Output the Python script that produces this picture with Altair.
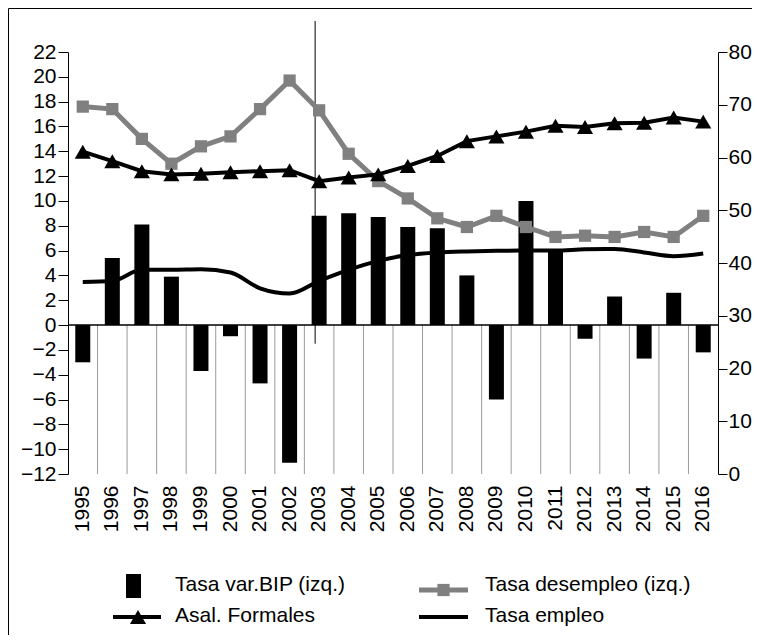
import altair as alt
import pandas as pd

years = [str(y) for y in range(1995, 2017)]
bip = [-3.0, 5.4, 8.1, 3.9, -3.7, -0.9, -4.7, -11.1, 8.8, 9.0, 8.7, 7.9, 7.8, 4.0,
       -6.0, 10.0, 5.9, -1.1, 2.3, -2.7, 2.6, -2.2]
desempleo = [17.6, 17.4, 15.0, 13.0, 14.4, 15.2, 17.4, 19.7, 17.3, 13.8, 11.6, 10.2,
             8.6, 7.9, 8.8, 7.9, 7.1, 7.2, 7.1, 7.5, 7.1, 8.8]
formales = [61.1, 59.3, 57.4, 56.8, 56.9, 57.2, 57.4, 57.6, 55.5, 56.2, 56.8, 58.4,
            60.3, 63.1, 64.0, 64.9, 66.0, 65.8, 66.5, 66.6, 67.6, 66.8]
empleo = [36.4, 36.6, 38.7, 38.7, 38.8, 38.2, 35.2, 34.2, 36.6, 38.7, 40.4, 41.5,
          42.0, 42.2, 42.3, 42.35, 42.35, 42.6, 42.65, 42.0, 41.3, 41.8]
y_left_ticks = list(range(-12, 23, 2))
y_right_ticks = list(range(0, 81, 10))
marker_year = ["2003"]
marker_span = [24.5, -1.5]
legend_labels = ["Tasa var.BIP (izq.)", "Tasa desempleo (izq.)", "Asal. Formales", "Tasa empleo"]

df = pd.DataFrame({"year": years, "bip": bip, "desempleo": desempleo,
                   "formales": formales, "empleo": empleo})
grid_df = pd.DataFrame({"year": years[1:], "top": [0] * 21, "bottom": [-12] * 21})
zero_df = pd.DataFrame({"z": [0]})
vline_df = pd.DataFrame({"year": marker_year, "top": [marker_span[0]], "bottom": [marker_span[1]]})
one = pd.DataFrame({"k": [0]})

FONT = "Liberation Sans"
LEGFONT = "Liberation Sans"

x_scale = alt.Scale(domain=years, paddingInner=0, paddingOuter=0)
x_axis = alt.Axis(title=None, labelAngle=-90, labelFontSize=21, labelFont=FONT,
                  labelColor="black", domain=False, ticks=False, labelPadding=11, grid=False)


def xenc(**kw):
    return alt.X("year:N", scale=x_scale, axis=x_axis, sort=years, **kw)


left_scale = alt.Scale(domain=[-12, 22], nice=False, zero=False)
left_axis = alt.Axis(title=None, values=y_left_ticks, orient="left", grid=False,
                     domainColor="black", tickColor="black", tickSize=10,
                     labelFontSize=21, labelFont=FONT, labelColor="black", labelPadding=2)
right_scale = alt.Scale(domain=[0, 80], nice=False, zero=False)
right_axis = alt.Axis(title=None, values=y_right_ticks, orient="right", grid=False,
                      domainColor="black", tickColor="black", tickSize=9,
                      labelFontSize=21, labelFont=FONT, labelColor="black", labelPadding=1)

grid = alt.Chart(grid_df).mark_rule(color="#9a9a9a", strokeWidth=1).encode(
    x=xenc(bandPosition=0),
    y=alt.Y("top:Q", scale=left_scale, axis=left_axis), y2="bottom:Q")
bars = alt.Chart(df).mark_bar(size=15, color="black").encode(
    x=xenc(), y=alt.Y("bip:Q", scale=left_scale, axis=left_axis))
zero = alt.Chart(zero_df).mark_rule(color="black", strokeWidth=1.5).encode(
    x=alt.value(0), x2=alt.value(650),
    y=alt.Y("z:Q", scale=left_scale, axis=left_axis))
vline = alt.Chart(vline_df).mark_rule(color="black", strokeWidth=1, xOffset=-4).encode(
    x=xenc(), y=alt.Y("top:Q", scale=left_scale, axis=left_axis), y2="bottom:Q")
des_line = alt.Chart(df).mark_line(color="#808080", strokeWidth=5).encode(
    x=xenc(), y=alt.Y("desempleo:Q", scale=left_scale, axis=left_axis))
des_pts = alt.Chart(df).mark_point(shape="square", size=150, filled=True,
                                   color="#808080", opacity=1).encode(
    x=xenc(), y=alt.Y("desempleo:Q", scale=left_scale, axis=left_axis))
left = alt.layer(grid, bars, zero, vline, des_line, des_pts)

form_line = alt.Chart(df).mark_line(color="black", strokeWidth=4).encode(
    x=xenc(), y=alt.Y("formales:Q", scale=right_scale, axis=right_axis))
form_pts = alt.Chart(df).mark_point(shape="triangle-up", size=260, filled=True,
                                    color="black", opacity=1).encode(
    x=xenc(), y=alt.Y("formales:Q", scale=right_scale, axis=right_axis))
emp_line = alt.Chart(df).mark_line(color="black", strokeWidth=4, interpolate="monotone").encode(
    x=xenc(), y=alt.Y("empleo:Q", scale=right_scale, axis=right_axis))
right = alt.layer(emp_line, form_line, form_pts)

# legend and frame (decoration)
leg = []
leg.append(alt.Chart(one).mark_rect(color="black").encode(
    x=alt.value(58), x2=alt.value(73), y=alt.value(522), y2=alt.value(546)))
leg.append(alt.Chart(one).mark_rule(color="black", strokeWidth=4).encode(
    x=alt.value(45), x2=alt.value(93), y=alt.value(565)))
leg.append(alt.Chart(one).mark_point(shape="triangle-up", size=260, filled=True,
                                     color="black", opacity=1).encode(
    x=alt.value(70), y=alt.value(565)))
leg.append(alt.Chart(one).mark_rule(color="#808080", strokeWidth=5).encode(
    x=alt.value(351), x2=alt.value(400), y=alt.value(538)))
leg.append(alt.Chart(one).mark_point(shape="square", size=150, filled=True,
                                     color="#808080", opacity=1).encode(
    x=alt.value(375.5), y=alt.value(538)))
leg.append(alt.Chart(one).mark_rule(color="black", strokeWidth=4).encode(
    x=alt.value(351), x2=alt.value(400), y=alt.value(565)))
text_pos = [(107, 533), (417, 533), (107, 564), (417, 564)]
for lab, (tx, ty) in zip(legend_labels, text_pos):
    leg.append(alt.Chart(one).mark_text(align="left", baseline="middle", font=LEGFONT,
                                        fontSize=21, color="black").encode(
        x=alt.value(tx), y=alt.value(ty), text=alt.value(lab)))
leg.append(alt.Chart(one).mark_rule(color="black", strokeWidth=1).encode(
    x=alt.value(-59.5), y=alt.value(-43.5), y2=alt.value(600)))
leg.append(alt.Chart(one).mark_rule(color="black", strokeWidth=1).encode(
    x=alt.value(-59.5), x2=alt.value(700), y=alt.value(-43.5)))
legend = alt.layer(*leg)

chart = alt.layer(left, right, legend).resolve_scale(y="independent").properties(
    width=650, height=422,
    padding={"left": 60, "top": 44, "right": 34, "bottom": 161},
    autosize=alt.AutoSizeParams(type="none"),
).configure_view(stroke=None)

chart.save("out.html", embed_options={"renderer": "svg", "actions": False})
